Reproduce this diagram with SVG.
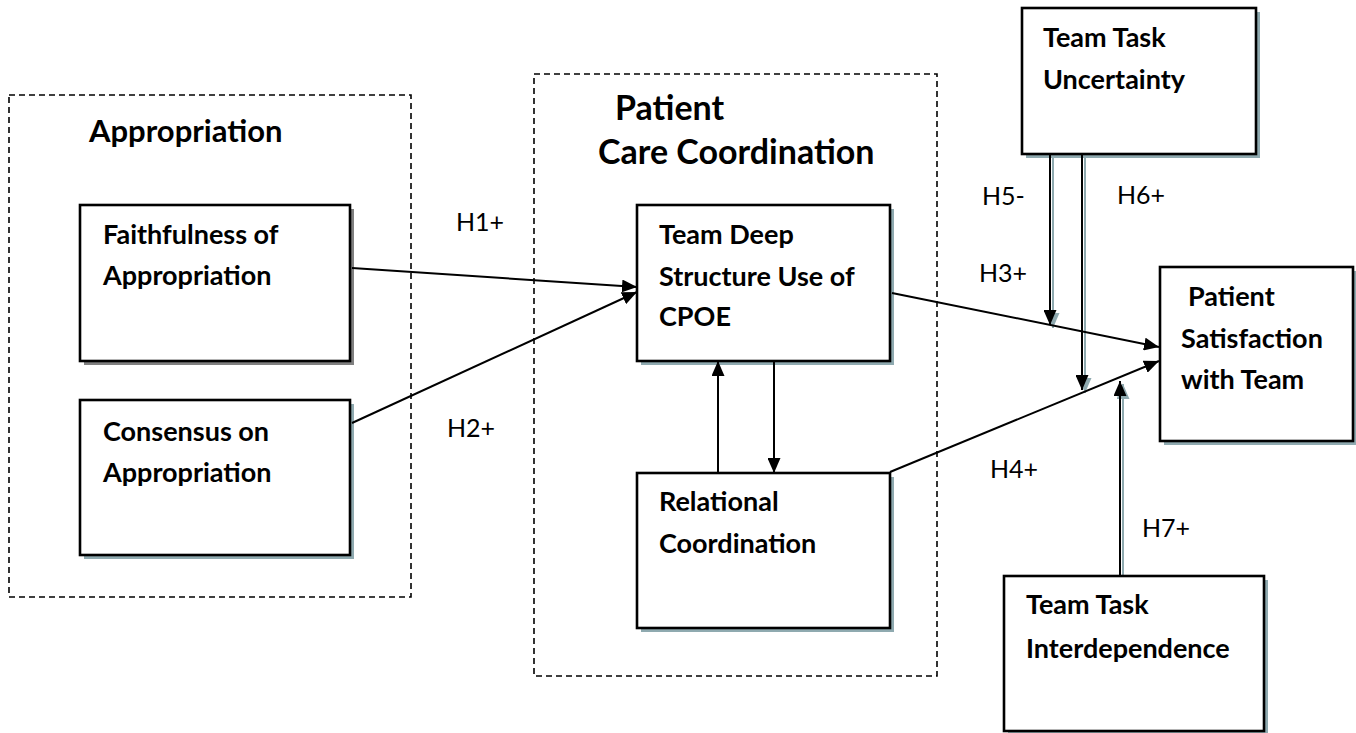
<svg xmlns="http://www.w3.org/2000/svg" width="1356" height="733" viewBox="0 0 1356 733">
<defs>
<style>
.grp{fill:none;stroke:#000;stroke-width:1.6;stroke-dasharray:6,4}
.box{fill:#fff;stroke:#000;stroke-width:2.6}
.sh{fill:#8faab0}
.shg{fill:#808080}
.nt{font-family:Lato,"Liberation Sans",sans-serif;font-weight:bold;font-size:27px;fill:#000}
.tt{font-family:Lato,"Liberation Sans",sans-serif;font-weight:bold;font-size:31px;fill:#000}
.tt2{font-family:Lato,"Liberation Sans",sans-serif;font-weight:bold;font-size:34px;fill:#000}
.lb{font-family:Lato,"Liberation Sans",sans-serif;font-size:25px;fill:#000}
.ln{fill:none;stroke:#000;stroke-width:2}
.lns{fill:none;stroke:#8faab0;stroke-width:2}
</style>
<marker id="ah" viewBox="0 0 15 13" refX="15" refY="6.5" markerWidth="15" markerHeight="13" markerUnits="userSpaceOnUse" orient="auto">
<path d="M0,0 L15,6.5 L0,13 Z" fill="#000"/>
</marker>
<marker id="ahs" viewBox="0 0 15 13" refX="15" refY="6.5" markerWidth="15" markerHeight="13" markerUnits="userSpaceOnUse" orient="auto">
<path d="M0,0 L15,6.5 L0,13 Z" fill="#8faab0"/>
</marker>
</defs>
<rect width="1356" height="733" fill="#fff"/>

<g id="group-appropriation">
<rect class="grp" x="9" y="95" width="402" height="502"/>
<text class="tt" x="89" y="142">Appropriation</text>
</g>
<g id="group-care-coordination">
<rect class="grp" x="534" y="74" width="403" height="602"/>
<text class="tt2" x="615" y="120">Patient</text>
<text class="tt2" x="598" y="164">Care Coordination</text>
</g>

<g id="connector-shadows">
<line class="lns" x1="1053" y1="157" x2="1053" y2="328" marker-end="url(#ahs)"/>
<line class="lns" x1="1085" y1="157" x2="1085" y2="393" marker-end="url(#ahs)"/>
<line class="lns" x1="1123" y1="579" x2="1123" y2="384" marker-end="url(#ahs)"/>
</g>

<g id="node-faithfulness">
<rect class="shg" x="84" y="209" width="270" height="156"/>
<rect class="box" x="80" y="205" width="270" height="156"/>
<text class="nt" x="103" y="244">Faithfulness of</text>
<text class="nt" x="103" y="285">Appropriation</text>
</g>
<g id="node-consensus">
<rect class="sh" x="84" y="404" width="270" height="155"/>
<rect class="box" x="80" y="400" width="270" height="155"/>
<text class="nt" x="103" y="441">Consensus on</text>
<text class="nt" x="103" y="482">Appropriation</text>
</g>
<g id="node-deep-structure">
<rect class="sh" x="641" y="209" width="253" height="156"/>
<rect class="box" x="637" y="205" width="253" height="156"/>
<text class="nt" x="659" y="244">Team Deep</text>
<text class="nt" x="659" y="286">Structure Use of</text>
<text class="nt" x="659" y="326">CPOE</text>
</g>
<g id="node-relational">
<rect class="sh" x="641" y="477" width="253" height="155"/>
<rect class="box" x="637" y="473" width="253" height="155"/>
<text class="nt" x="659" y="511">Relational</text>
<text class="nt" x="659" y="553">Coordination</text>
</g>
<g id="node-uncertainty">
<rect class="sh" x="1026" y="12" width="234" height="146"/>
<rect class="box" x="1022" y="8" width="234" height="146"/>
<text class="nt" x="1043" y="47">Team Task</text>
<text class="nt" x="1043" y="89">Uncertainty</text>
</g>
<g id="node-satisfaction">
<rect class="sh" x="1164" y="271" width="193" height="174"/>
<rect class="box" x="1160" y="267" width="193" height="174"/>
<text class="nt" x="1188" y="306">Patient</text>
<text class="nt" x="1181" y="348">Satisfaction</text>
<text class="nt" x="1181" y="389">with Team</text>
</g>
<g id="node-interdependence">
<rect class="sh" x="1008" y="580" width="260" height="160"/>
<rect class="box" x="1004" y="576" width="260" height="155"/>
<text class="nt" x="1026" y="614">Team Task</text>
<text class="nt" x="1026" y="658">Interdependence</text>
</g>

<g id="connectors">
<line class="ln" x1="352" y1="268" x2="637" y2="287" marker-end="url(#ah)"/>
<line class="ln" x1="352" y1="423" x2="637" y2="292" marker-end="url(#ah)"/>
<line class="ln" x1="892" y1="293" x2="1159" y2="347" marker-end="url(#ah)"/>
<line class="ln" x1="890" y1="472" x2="1159" y2="361" marker-end="url(#ah)"/>
<line class="ln" x1="718" y1="473" x2="718" y2="361" marker-end="url(#ah)"/>
<line class="ln" x1="774" y1="361" x2="774" y2="473" marker-end="url(#ah)"/>
<line class="ln" x1="1050" y1="154" x2="1050" y2="325" marker-end="url(#ah)"/>
<line class="ln" x1="1082" y1="154" x2="1082" y2="390" marker-end="url(#ah)"/>
<line class="ln" x1="1120" y1="576" x2="1120" y2="381" marker-end="url(#ah)"/>
</g>

<g id="labels">
<text class="lb" x="456" y="231">H1+</text>
<text class="lb" x="447" y="437">H2+</text>
<text class="lb" x="979" y="282">H3+</text>
<text class="lb" x="990" y="478">H4+</text>
<text class="lb" x="982" y="205">H5-</text>
<text class="lb" x="1117" y="204">H6+</text>
<text class="lb" x="1142" y="537">H7+</text>
</g>
</svg>
